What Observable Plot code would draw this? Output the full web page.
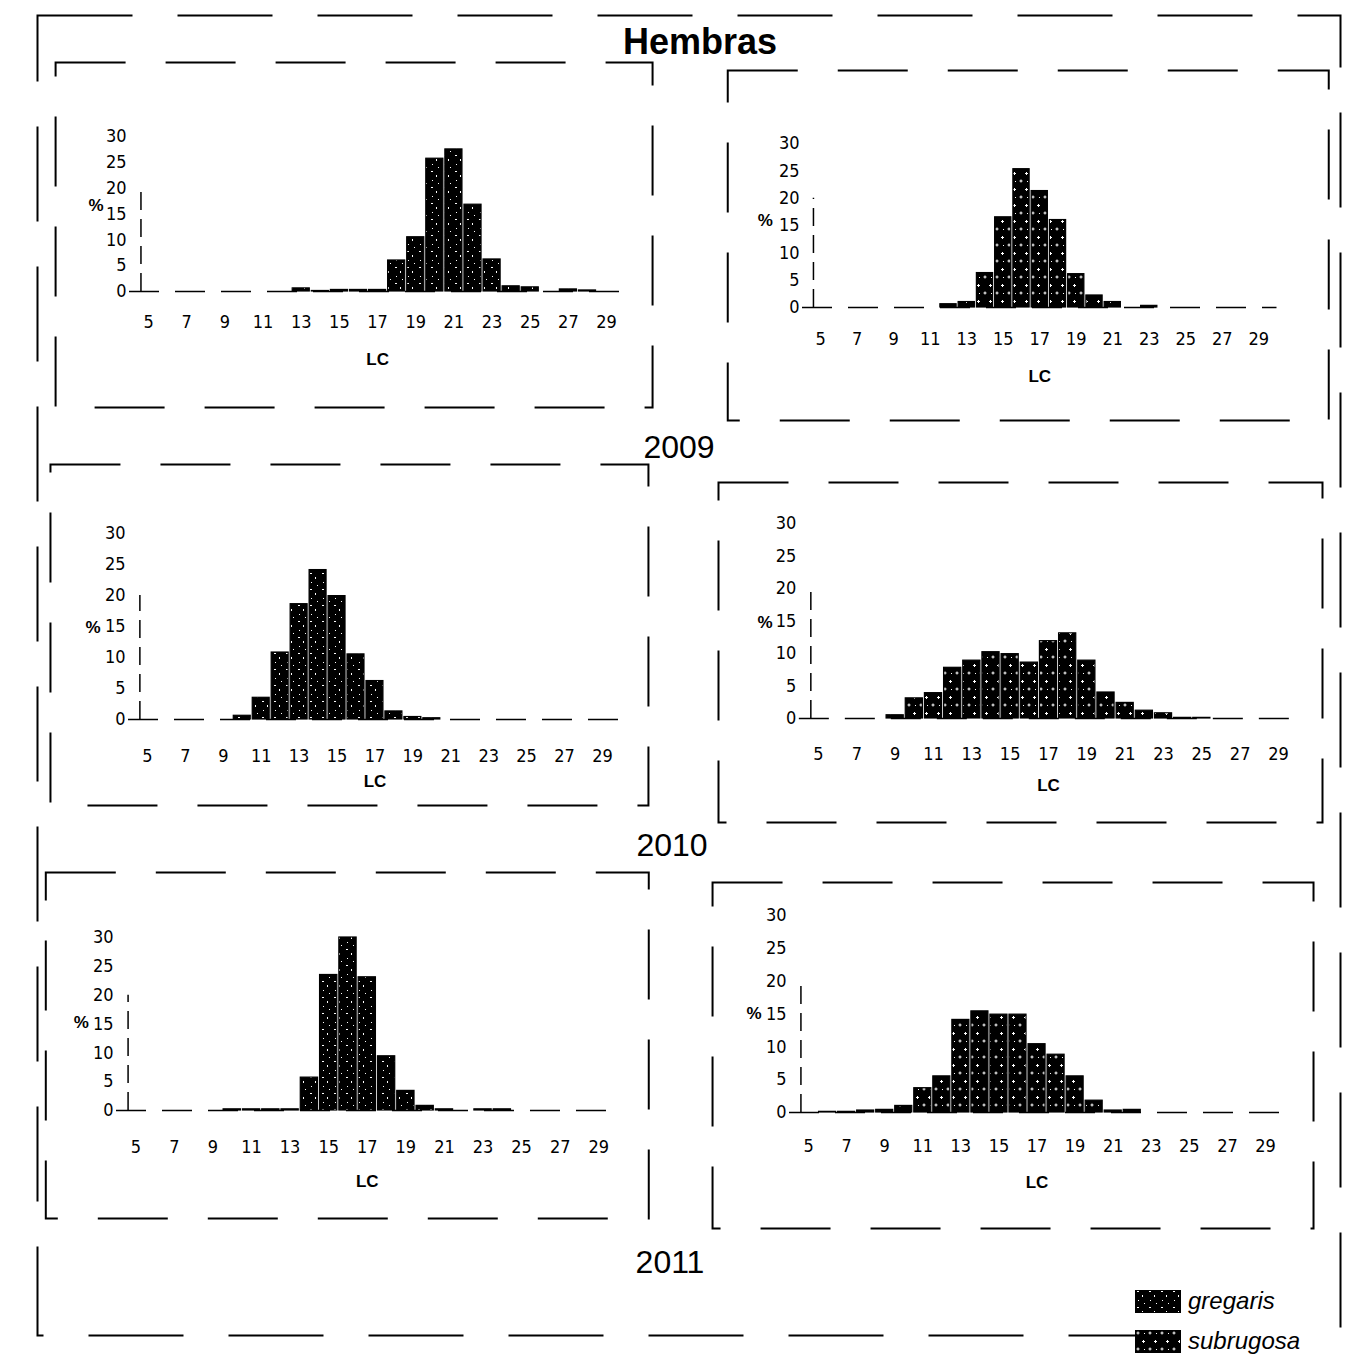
<!DOCTYPE html>
<html>
<head>
<meta charset="utf-8">
<script src="https://cdn.jsdelivr.net/npm/d3@7"></script>
<script src="https://cdn.jsdelivr.net/npm/@observablehq/plot@0.6"></script>
<style>
  body { margin: 0; background: #fff; }
  #fig { position: relative; width: 1349px; height: 1356px; overflow: hidden; background: #fff;
         font-family: "Liberation Sans", Arial, sans-serif; color: #000; }
  .abs { position: absolute; }
  .title { font-weight: bold; font-size: 36px; transform: translate(-50%, -50%); white-space: nowrap; }
  .year { font-size: 32px; transform: translate(-50%, -50%); white-space: nowrap; }
  .leg { font-style: italic; font-size: 24px; transform: translateY(-50%); white-space: nowrap; background: #fff; padding-right: 4px; }
</style>
</head>
<body>
<svg width="0" height="0" style="position:absolute">
  <defs>
    <pattern id="pat-gregaris" patternUnits="userSpaceOnUse" width="12" height="16">
      <rect width="12" height="16" fill="#000"/>
      <rect x="2" y="1" width="2" height="1" fill="#fff"/>
      <rect x="7" y="5" width="1" height="2" fill="#fff"/>
      <rect x="3" y="10" width="1" height="1" fill="#fff"/>
      <rect x="9" y="13" width="1" height="1" fill="#fff"/>
    </pattern>
    <pattern id="pat-subrugosa" patternUnits="userSpaceOnUse" width="12" height="16">
      <rect width="12" height="16" fill="#000"/>
      <path d="M1.5 3h3M3 1.5v3M7 11.5h3M8.5 10v3" stroke="#fff" stroke-width="1"/>
      <rect x="9" y="3" width="1" height="1" fill="#fff"/>
    </pattern>
  </defs>
</svg>
<div id="fig"></div>
<script>
// ---- data ----
const lc = [5,6,7,8,9,10,11,12,13,14,15,16,17,18,19,20,21,22,23,24,25,26,27,28,29];
const xTicks = [5,7,9,11,13,15,17,19,21,23,25,27,29];
const yTicks = [0,5,10,15,20,25,30];
const species = ["gregaris", "subrugosa"];
const years = ["2009", "2010", "2011"];

const gregaris2009  = [0,0,0,0,0,0,0,0,0.6,0.1,0.3,0.3,0.3,6.0,10.5,25.7,27.5,16.8,6.2,1.0,0.8,0,0.4,0.2,0];
const subrugosa2009 = [0,0,0,0,0,0,0,0.6,1.0,6.3,16.5,25.3,21.3,16.0,6.1,2.2,1.0,0,0.3,0,0,0,0,0,0];
const gregaris2010  = [0,0,0,0,0,0.6,3.5,10.8,18.6,24.1,19.9,10.5,6.2,1.3,0.4,0.2,0,0,0,0,0,0,0,0,0];
const subrugosa2010 = [0,0,0,0,0.5,3.1,3.9,7.8,8.9,10.2,9.9,8.6,11.9,13.1,8.9,4.0,2.4,1.2,0.8,0.1,0.1,0,0,0,0];
const gregaris2011  = [0,0,0,0,0,0.2,0.2,0.2,0.2,5.7,23.5,30.0,23.1,9.4,3.4,0.8,0.2,0,0.2,0.2,0,0,0,0,0];
const subrugosa2011 = [0,0.1,0.1,0.3,0.4,1.0,3.7,5.5,14.1,15.4,14.9,14.9,10.4,8.8,5.5,1.8,0.3,0.4,0,0,0,0,0,0,0];

// ---- layout (pixel geometry of each panel) ----
const layout = [
  {values: gregaris2009,  sp: "gregaris",  x5: 148, x29: 606,  y0: 291,  y30: 136, box: [55, 62, 652, 407],    pct: [88, 205],   lcY: 365,  xGap: 32},
  {values: subrugosa2009, sp: "subrugosa", x5: 820, x29: 1258, y0: 307,  y30: 143, box: [727, 70, 1328, 420],   pct: [757, 220],  lcY: 381,  xGap: 33},
  {values: gregaris2010,  sp: "gregaris",  x5: 147, x29: 602,  y0: 719,  y30: 533, box: [50, 464, 648, 805],    pct: [85, 627],   lcY: 787,  xGap: 38},
  {values: subrugosa2010, sp: "subrugosa", x5: 818, x29: 1278, y0: 718,  y30: 523, box: [718, 482, 1322, 822],  pct: [757, 622],  lcY: 790,  xGap: 37},
  {values: gregaris2011,  sp: "gregaris",  x5: 135, x29: 598,  y0: 1110, y30: 937, box: [45, 872, 648, 1218],   pct: [73, 1022],  lcY: 1187, xGap: 38},
  {values: subrugosa2011, sp: "subrugosa", x5: 808, x29: 1265, y0: 1112, y30: 915, box: [712, 882, 1313, 1228], pct: [746, 1013], lcY: 1188, xGap: 35}
];

const fig = document.getElementById("fig");
const tickFont = '"Liberation Sans Narrow", "DejaVu Sans Condensed", "Liberation Sans", Arial, sans-serif';

// outer frame
const outer = Plot.plot({
  width: 1349, height: 1356,
  marginLeft: 37, marginTop: 15, marginRight: 9, marginBottom: 21,
  style: {background: "transparent", maxWidth: "none"},
  marks: [Plot.frame({stroke: "#000", strokeWidth: 2, strokeDasharray: "95 45"})]
});
outer.style.position = "absolute"; outer.style.left = "0px"; outer.style.top = "0px";
fig.appendChild(outer);

for (const cfg of layout) {
  const data = lc.map((x, i) => ({lc: x, pct: cfg.values[i]})).filter(d => d.pct > 0);
  const u = (cfg.x29 - cfg.x5) / 24;
  const pL = cfg.x5 - u, pR = cfg.x29 + u, pT = cfg.y30, pB = cfg.y0;
  const [bl, bt, br, bb] = cfg.box;
  const left = Math.min(bl, pL - 80) - 4;
  const top = Math.min(bt, pT - 20) - 4;
  const right = Math.max(br, pR + 10) + 4;
  const bottom = Math.max(bb, pB + 100) + 4;
  const mid = (pT + pB) / 2;
  const chart = Plot.plot({
    width: right - left, height: bottom - top,
    marginLeft: pL - left, marginRight: right - pR, marginTop: pT - top, marginBottom: bottom - pB,
    style: {background: "transparent", maxWidth: "none", overflow: "visible", fontFamily: tickFont, fontSize: "18px", color: "#000"},
    x: {domain: [4, 30], ticks: xTicks, tickFormat: d => String(d), tickSize: 0, tickPadding: cfg.xGap - 8, label: null},
    y: {domain: [0, 30], ticks: yTicks, tickSize: 0, tickPadding: 3, label: null},
    marks: [
      Plot.frame({stroke: "#000", strokeWidth: 2, strokeDasharray: "70 40",
        insetLeft: bl - pL, insetTop: bt - pT, insetRight: pR - br, insetBottom: pB - bb}),
      Plot.ruleY([0], {stroke: "#000", strokeWidth: 1.5, strokeDasharray: "30 16"}),
      Plot.ruleX([4.6], {y1: 0, y2: 20, stroke: "#000", strokeWidth: 1.5, strokeDasharray: "18 9"}),
      Plot.rectY(data, {x1: d => d.lc - 0.5, x2: d => d.lc + 0.5, y: "pct",
        fill: `url(#pat-${cfg.sp})`, stroke: "#000", strokeWidth: 1.2, insetLeft: 1, insetRight: 1}),
      Plot.axisX({ticks: xTicks, tickSize: 0, tickPadding: cfg.xGap - 8, label: null, fontSize: 18}),
      Plot.axisY({ticks: yTicks, tickSize: 0, tickPadding: 3, label: null, fontSize: 18}),
      Plot.text(["LC"], {text: d => d, frameAnchor: "bottom", dy: cfg.lcY - cfg.y0, fontWeight: "bold", fontSize: 17, fontFamily: '"Liberation Sans", Arial, sans-serif'}),
      Plot.text(["%"], {text: d => d, frameAnchor: "left", dx: cfg.pct[0] - pL, dy: cfg.pct[1] - mid, fontWeight: "bold", fontSize: 17, fontFamily: '"Liberation Sans", Arial, sans-serif'})
    ]
  });
  chart.style.position = "absolute";
  chart.style.left = left + "px";
  chart.style.top = top + "px";
  fig.appendChild(chart);
}

// titles
function addText(cls, txt, x, y) {
  const d = document.createElement("div");
  d.className = "abs " + cls;
  d.textContent = txt;
  d.style.left = x + "px"; d.style.top = y + "px";
  fig.appendChild(d);
  return d;
}
addText("title", "Hembras", 700, 42);
addText("year", years[0], 679, 447);
addText("year", years[1], 672, 845);
addText("year", years[2], 670, 1262);

// legend
const legY = [1301, 1341];
species.forEach((sp, i) => {
  const sw = document.createElementNS("http://www.w3.org/2000/svg", "svg");
  sw.setAttribute("width", 46); sw.setAttribute("height", 23);
  sw.style.position = "absolute"; sw.style.left = "1135px"; sw.style.top = (legY[i] - 11) + "px";
  sw.innerHTML = `<rect x="0.5" y="0.5" width="45" height="22" fill="url(#pat-${sp})" stroke="#000"/>`;
  fig.appendChild(sw);
  addText("leg", sp, 1188, legY[i]);
});
</script>
</body>
</html>
